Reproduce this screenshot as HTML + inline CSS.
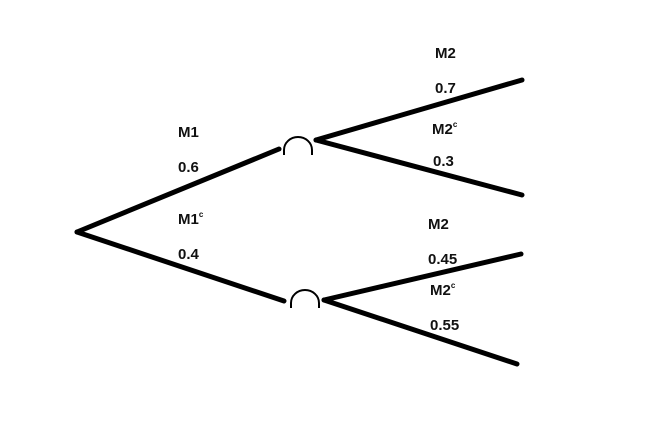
<!DOCTYPE html>
<html><head><meta charset="utf-8"><style>
html,body{margin:0;padding:0;background:#fff;}
svg{display:block;}
text{font-family:"Liberation Sans",sans-serif;font-weight:bold;font-size:15px;fill:#111;}
.sup{font-size:8px;}
</style></head><body>
<svg width="653" height="435" viewBox="0 0 653 435">
<g stroke="#000" stroke-width="5" stroke-linecap="round" fill="none">
<line x1="77" y1="232" x2="279" y2="149"/>
<line x1="77" y1="232" x2="284" y2="301"/>
<line x1="316" y1="140" x2="522" y2="80"/>
<line x1="316" y1="140" x2="522" y2="195"/>
<line x1="324" y1="300" x2="521" y2="254"/>
<line x1="324" y1="300" x2="517" y2="364"/>
</g>
<g stroke="#000" stroke-width="2" fill="none">
<path d="M284 155 L284 150 A14 13 0 0 1 312 150 L312 155"/>
<path d="M291 308 L291 303 A14 13 0 0 1 319 303 L319 308"/>
</g>
<text x="178" y="137">M1</text>
<text x="178" y="172">0.6</text>
<text x="178" y="224">M1<tspan class="sup" dy="-7">c</tspan></text>
<text x="178" y="259">0.4</text>
<text x="435" y="58">M2</text>
<text x="435" y="93">0.7</text>
<text x="432" y="134">M2<tspan class="sup" dy="-7">c</tspan></text>
<text x="433" y="166">0.3</text>
<text x="428" y="229">M2</text>
<text x="428" y="264">0.45</text>
<text x="430" y="295">M2<tspan class="sup" dy="-7">c</tspan></text>
<text x="430" y="330">0.55</text>
</svg>
</body></html>
